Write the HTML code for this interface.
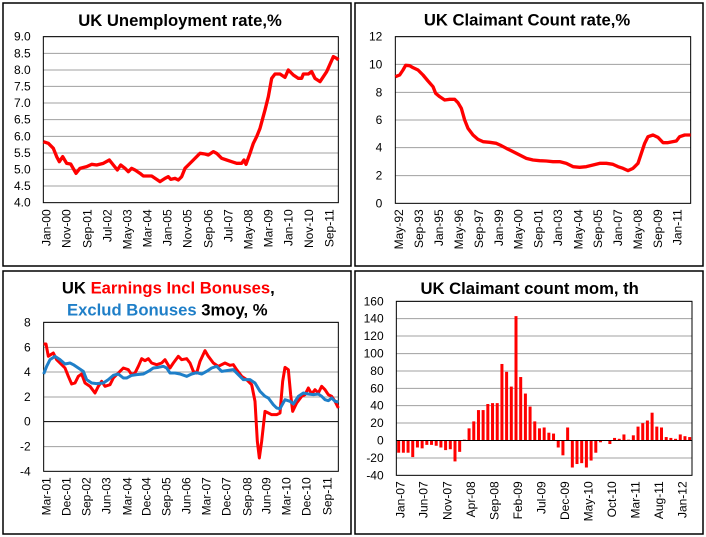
<!DOCTYPE html>
<html><head><meta charset="utf-8"><style>
html,body{margin:0;padding:0;background:#fff;}
svg{display:block;font-family:"Liberation Sans",sans-serif;}
.t{font-size:36px;fill:#000;}
.ti{font-size:50px;font-weight:bold;fill:#000;}
.g{stroke:#a0a0a0;stroke-width:3;}
</style></head><body>
<svg width="706" height="537" viewBox="0 0 706 537" xmlns="http://www.w3.org/2000/svg">
<rect x="0" y="0" width="706" height="537" fill="#fff"/>
<rect x="3" y="3" width="348" height="263" fill="none" stroke="#000" stroke-width="1.5"/>
<rect x="355" y="3" width="348" height="263" fill="none" stroke="#000" stroke-width="1.5"/>
<rect x="3" y="271" width="348" height="263" fill="none" stroke="#000" stroke-width="1.5"/>
<rect x="355" y="271" width="348" height="263" fill="none" stroke="#000" stroke-width="1.5"/>

<!-- Panel 1 -->
<svg x="0" y="0" width="353" height="268" viewBox="0 0 1059 804">
<text class="ti" x="540" y="78" text-anchor="middle">UK Unemployment rate,%</text>
<g class="g">
<line x1="130" y1="110" x2="1015" y2="110"/><line x1="130" y1="160" x2="1015" y2="160"/><line x1="130" y1="210" x2="1015" y2="210"/><line x1="130" y1="259" x2="1015" y2="259"/><line x1="130" y1="309" x2="1015" y2="309"/><line x1="130" y1="359" x2="1015" y2="359"/><line x1="130" y1="409" x2="1015" y2="409"/><line x1="130" y1="459" x2="1015" y2="459"/><line x1="130" y1="508" x2="1015" y2="508"/><line x1="130" y1="558" x2="1015" y2="558"/>
</g>
<rect x="130" y="110" width="885" height="498" fill="none" stroke="#000" stroke-width="3"/>
<g class="t" text-anchor="end">
<text x="92" y="122">9.0</text><text x="92" y="172">8.5</text><text x="92" y="222">8.0</text><text x="92" y="271">7.5</text><text x="92" y="321">7.0</text><text x="92" y="371">6.5</text><text x="92" y="421">6.0</text><text x="92" y="471">5.5</text><text x="92" y="520">5.0</text><text x="92" y="570">4.5</text><text x="92" y="620">4.0</text>
</g>
<g class="t" text-anchor="end">
<text transform="translate(152,628) rotate(-90)">Jan-00</text><text transform="translate(212,628) rotate(-90)">Nov-00</text><text transform="translate(274,628) rotate(-90)">Sep-01</text><text transform="translate(334,628) rotate(-90)">Jul-02</text><text transform="translate(395,628) rotate(-90)">May-03</text><text transform="translate(455,628) rotate(-90)">Mar-04</text><text transform="translate(515,628) rotate(-90)">Jan-05</text><text transform="translate(575,628) rotate(-90)">Nov-05</text><text transform="translate(637,628) rotate(-90)">Sep-06</text><text transform="translate(697,628) rotate(-90)">Jul-07</text><text transform="translate(757,628) rotate(-90)">May-08</text><text transform="translate(818,628) rotate(-90)">Mar-09</text><text transform="translate(878,628) rotate(-90)">Jan-10</text><text transform="translate(939,628) rotate(-90)">Nov-10</text><text transform="translate(1000,628) rotate(-90)">Sep-11</text>
</g>
<polyline fill="none" stroke="#f00" stroke-width="10" stroke-linejoin="round" points="130,425 145,430 160,445 170,470 178,485 188,470 200,490 212,492 228,520 240,505 260,500 275,493 290,495 310,490 328,480 340,495 352,510 362,495 375,505 385,515 395,505 405,510 420,520 430,528 455,528 470,538 480,545 495,535 505,530 512,538 525,535 535,540 545,530 555,505 565,495 580,480 600,460 615,462 625,465 640,455 650,460 665,475 680,480 695,485 710,490 725,490 732,480 738,493 750,460 760,430 770,410 780,385 795,330 805,290 815,235 825,222 840,222 855,232 865,210 880,225 895,235 905,235 910,222 925,222 935,215 945,235 960,245 980,215 1000,170 1010,175 1015,180"/>
</svg>

<!-- Panel 2 -->
<svg x="353" y="0" width="353" height="268" viewBox="0 0 1059 804">
<text class="ti" x="522" y="76" text-anchor="middle">UK Claimant Count rate,%</text>
<g class="g">
<line x1="127" y1="110" x2="1013" y2="110"/><line x1="127" y1="193" x2="1013" y2="193"/><line x1="127" y1="277" x2="1013" y2="277"/><line x1="127" y1="360" x2="1013" y2="360"/><line x1="127" y1="443" x2="1013" y2="443"/><line x1="127" y1="527" x2="1013" y2="527"/>
</g>
<rect x="127" y="110" width="886" height="500" fill="none" stroke="#000" stroke-width="3"/>
<g class="t" text-anchor="end">
<text x="88" y="122">12</text><text x="88" y="205">10</text><text x="88" y="289">8</text><text x="88" y="372">6</text><text x="88" y="455">4</text><text x="88" y="539">2</text><text x="88" y="622">0</text>
</g>
<g class="t" text-anchor="end">
<text transform="translate(150,628) rotate(-90)">May-92</text><text transform="translate(210,628) rotate(-90)">Sep-93</text><text transform="translate(270,628) rotate(-90)">Jan-95</text><text transform="translate(330,628) rotate(-90)">May-96</text><text transform="translate(390,628) rotate(-90)">Sep-97</text><text transform="translate(450,628) rotate(-90)">Jan-99</text><text transform="translate(509,628) rotate(-90)">May-00</text><text transform="translate(568,628) rotate(-90)">Sep-01</text><text transform="translate(627,628) rotate(-90)">Jan-03</text><text transform="translate(688,628) rotate(-90)">May-04</text><text transform="translate(747,628) rotate(-90)">Sep-05</text><text transform="translate(807,628) rotate(-90)">Jan-07</text><text transform="translate(867,628) rotate(-90)">May-08</text><text transform="translate(927,628) rotate(-90)">Sep-09</text><text transform="translate(985,628) rotate(-90)">Jan-11</text>
</g>
<polyline fill="none" stroke="#f00" stroke-width="10" stroke-linejoin="round" points="127,230 140,225 150,210 158,196 170,197 180,203 195,210 210,225 225,243 240,260 248,280 260,290 275,300 290,298 305,298 315,308 325,325 335,360 345,385 360,405 375,418 390,425 410,427 430,430 445,437 460,445 480,455 500,465 520,475 540,480 560,482 580,483 600,485 620,485 640,490 660,500 680,502 700,500 720,495 740,490 760,490 780,493 795,500 810,505 825,512 840,505 855,490 865,460 875,430 885,410 900,405 915,412 930,428 945,428 960,425 970,423 980,410 995,405 1013,405"/>
</svg>

<!-- Panel 3 -->
<svg x="0" y="268" width="353" height="269" viewBox="0 0 1059 807">
<text class="ti" x="505" y="76" text-anchor="middle"><tspan fill="#000">UK </tspan><tspan fill="#f00">Earnings Incl Bonuses</tspan><tspan fill="#000">,</tspan></text>
<text class="ti" x="502" y="143" text-anchor="middle"><tspan fill="#1f7fc8">Exclud Bonuses </tspan><tspan fill="#000">3moy, %</tspan></text>
<g class="g">
<line x1="131" y1="163" x2="1015" y2="163"/><line x1="131" y1="238" x2="1015" y2="238"/><line x1="131" y1="312" x2="1015" y2="312"/><line x1="131" y1="387" x2="1015" y2="387"/><line x1="131" y1="536" x2="1015" y2="536"/>
</g>
<line x1="131" y1="461" x2="1015" y2="461" stroke="#000" stroke-width="3"/>
<rect x="131" y="163" width="884" height="447" fill="none" stroke="#000" stroke-width="3"/>
<g class="t" text-anchor="end">
<text x="92" y="175">8</text><text x="92" y="250">6</text><text x="92" y="324">4</text><text x="92" y="399">2</text><text x="92" y="473">0</text><text x="92" y="548">-2</text><text x="92" y="622">-4</text>
</g>
<g class="t" text-anchor="end">
<text transform="translate(152,628) rotate(-90)">Mar-01</text><text transform="translate(212,628) rotate(-90)">Dec-01</text><text transform="translate(272,628) rotate(-90)">Sep-02</text><text transform="translate(332,628) rotate(-90)">Jun-03</text><text transform="translate(394,628) rotate(-90)">Mar-04</text><text transform="translate(452,628) rotate(-90)">Dec-04</text><text transform="translate(512,628) rotate(-90)">Sep-05</text><text transform="translate(572,628) rotate(-90)">Jun-06</text><text transform="translate(632,628) rotate(-90)">Mar-07</text><text transform="translate(692,628) rotate(-90)">Dec-07</text><text transform="translate(754,628) rotate(-90)">Sep-08</text><text transform="translate(812,628) rotate(-90)">Jun-09</text><text transform="translate(872,628) rotate(-90)">Mar-10</text><text transform="translate(932,628) rotate(-90)">Dec-10</text><text transform="translate(994,628) rotate(-90)">Sep-11</text>
</g>
<polyline fill="none" stroke="#f00" stroke-width="9" stroke-linejoin="round" points="131,228 138,228 145,265 152,260 160,255 170,275 180,285 195,300 205,325 215,348 225,345 235,325 245,318 255,345 270,355 285,375 295,355 305,340 315,355 330,350 340,330 355,315 370,300 385,305 395,320 405,315 415,295 425,272 435,278 445,272 455,285 470,290 485,285 495,275 510,300 520,285 535,265 545,275 560,272 570,285 580,310 590,315 600,280 615,248 625,265 640,285 655,295 675,285 690,292 700,290 710,305 725,325 740,335 755,350 765,400 772,520 778,570 785,520 795,430 805,435 815,440 830,440 840,435 848,340 855,298 865,305 872,380 878,430 890,405 905,385 915,380 925,360 935,378 945,365 955,375 965,355 975,365 985,380 995,385 1005,400 1015,420"/>
<polyline fill="none" stroke="#1f7fc8" stroke-width="9" stroke-linejoin="round" points="131,318 140,295 150,275 165,265 180,275 195,288 210,285 220,290 235,300 250,310 260,335 275,345 290,347 310,345 325,335 340,322 355,318 370,330 380,330 395,322 410,320 430,318 445,310 460,300 475,298 490,295 500,300 510,315 525,315 540,318 560,325 575,318 590,314 605,318 620,310 635,300 650,295 665,310 680,308 700,305 715,320 730,335 750,335 765,345 780,370 795,385 805,390 820,410 830,420 840,422 855,395 870,400 880,408 895,385 910,375 925,378 940,380 955,378 965,385 975,395 985,398 995,390 1005,400 1015,402"/>
</svg>

<!-- Panel 4 -->
<svg x="353" y="268" width="353" height="269" viewBox="0 0 1059 807">
<text class="ti" x="530" y="78" text-anchor="middle">UK Claimant count mom, th</text>
<g class="g">
<line x1="130" y1="100" x2="1017" y2="100"/><line x1="130" y1="152" x2="1017" y2="152"/><line x1="130" y1="204" x2="1017" y2="204"/><line x1="130" y1="257" x2="1017" y2="257"/><line x1="130" y1="309" x2="1017" y2="309"/><line x1="130" y1="361" x2="1017" y2="361"/><line x1="130" y1="413" x2="1017" y2="413"/><line x1="130" y1="465" x2="1017" y2="465"/><line x1="130" y1="570" x2="1017" y2="570"/>
</g>
<g transform="translate(0,517.6) scale(1,-2.61)" fill="#f00">
<rect x="132.5" y="-14" width="9" height="14"/><rect x="146.6" y="-14" width="9" height="14"/><rect x="160.7" y="-14" width="9" height="14"/><rect x="174.7" y="-19" width="9" height="19"/><rect x="188.8" y="-8" width="9" height="8"/><rect x="202.9" y="-9" width="9" height="9"/><rect x="217" y="-5" width="9" height="5"/><rect x="231.1" y="-5" width="9" height="5"/><rect x="245.1" y="-6" width="9" height="6"/><rect x="259.2" y="-8" width="9" height="8"/><rect x="273.3" y="-11" width="9" height="11"/><rect x="287.4" y="-10" width="9" height="10"/><rect x="301.5" y="-24" width="9" height="24"/><rect x="315.5" y="-13" width="9" height="13"/>
<rect x="329.6" y="0" width="9" height="1"/><rect x="343.7" y="0" width="9" height="14"/><rect x="357.8" y="0" width="9" height="22"/><rect x="371.9" y="0" width="9" height="35"/><rect x="385.9" y="0" width="9" height="35"/><rect x="400" y="0" width="9" height="42"/><rect x="414.1" y="0" width="9" height="43"/><rect x="428.2" y="0" width="9" height="43"/><rect x="442.3" y="0" width="9" height="88"/><rect x="456.3" y="0" width="9" height="79"/><rect x="470.4" y="0" width="9" height="62"/><rect x="484.5" y="0" width="9" height="143"/><rect x="498.6" y="0" width="9" height="73"/><rect x="512.7" y="0" width="9" height="54"/><rect x="526.7" y="0" width="9" height="39"/><rect x="540.8" y="0" width="9" height="22"/><rect x="554.9" y="0" width="9" height="14"/><rect x="569" y="0" width="9" height="15"/><rect x="583.1" y="0" width="9" height="9"/><rect x="597.1" y="0" width="9" height="8"/>
<rect x="611.2" y="-8" width="9" height="8"/><rect x="625.3" y="-17" width="9" height="17"/><rect x="639.4" y="0" width="9" height="15"/><rect x="653.5" y="-31" width="9" height="31"/><rect x="667.5" y="-27" width="9" height="27"/><rect x="681.6" y="-26" width="9" height="26"/><rect x="695.7" y="-31" width="9" height="31"/><rect x="709.8" y="-23" width="9" height="23"/><rect x="723.9" y="-14" width="9" height="14"/><rect x="737.9" y="-2" width="9" height="2"/><rect x="766.1" y="-4" width="9" height="4"/>
<rect x="780.2" y="0" width="9" height="3"/><rect x="794.3" y="0" width="9" height="2"/><rect x="808.3" y="0" width="9" height="7"/><rect x="822.4" y="0" width="9" height="1"/><rect x="836.5" y="0" width="9" height="6"/><rect x="850.6" y="0" width="9" height="16"/><rect x="864.7" y="0" width="9" height="20"/><rect x="878.7" y="0" width="9" height="23"/><rect x="892.8" y="0" width="9" height="32"/><rect x="906.9" y="0" width="9" height="16"/><rect x="921" y="0" width="9" height="15"/><rect x="935.1" y="0" width="9" height="4"/><rect x="949.1" y="0" width="9" height="3"/><rect x="963.2" y="0" width="9" height="2"/><rect x="977.3" y="0" width="9" height="7"/><rect x="991.4" y="0" width="9" height="5"/><rect x="1005.5" y="0" width="9" height="4"/>
</g>
<line x1="130" y1="517.6" x2="1017" y2="517.6" stroke="#000" stroke-width="3"/>
<rect x="130" y="100" width="887" height="522" fill="none" stroke="#000" stroke-width="3"/>
<g class="t" text-anchor="end">
<text x="92" y="112">160</text><text x="92" y="164">140</text><text x="92" y="216">120</text><text x="92" y="269">100</text><text x="92" y="321">80</text><text x="92" y="373">60</text><text x="92" y="425">40</text><text x="92" y="477">20</text><text x="92" y="530">0</text><text x="92" y="582">-20</text><text x="92" y="634">-40</text>
</g>
<g class="t" text-anchor="end">
<text transform="translate(154,640) rotate(-90)">Jan-07</text><text transform="translate(224,640) rotate(-90)">Jun-07</text><text transform="translate(295,640) rotate(-90)">Nov-07</text><text transform="translate(366,640) rotate(-90)">Apr-08</text><text transform="translate(436,640) rotate(-90)">Sep-08</text><text transform="translate(507,640) rotate(-90)">Feb-09</text><text transform="translate(577,640) rotate(-90)">Jul-09</text><text transform="translate(648,640) rotate(-90)">Dec-09</text><text transform="translate(718,640) rotate(-90)">May-10</text><text transform="translate(789,640) rotate(-90)">Oct-10</text><text transform="translate(859,640) rotate(-90)">Mar-11</text><text transform="translate(930,640) rotate(-90)">Aug-11</text><text transform="translate(1000,640) rotate(-90)">Jan-12</text>
</g>
</svg>
</svg>
</body></html>
